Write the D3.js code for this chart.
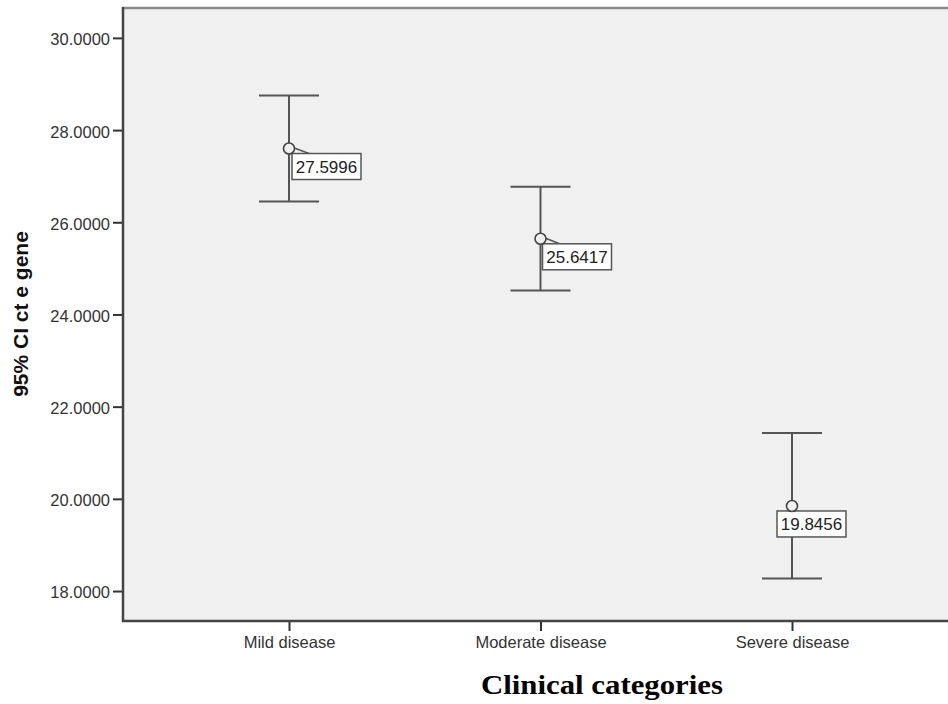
<!DOCTYPE html>
<html>
<head>
<meta charset="utf-8">
<script src="https://cdn.jsdelivr.net/npm/d3@7"></script>
<style>
  body { margin: 0; background: #fff; }
  svg { display: block; }
</style>
</head>
<body>
<div id="chart"></div>
<script>
// data
const categories = ["Mild disease", "Moderate disease", "Severe disease"];
const means = [27.5996, 25.6417, 19.8456];
const upper = [28.75, 26.77, 21.43];
const lower = [26.45, 24.52, 18.27];
const yTicks = [18, 20, 22, 24, 26, 28, 30];
const yDomain = [17.35, 30.67];

// where each value box sits relative to its mean (layout only)
const labelDx = [3, 2, -15];

const W = 948, H = 704;
const plot = {left: 122, right: 959, top: 7, bottom: 621};

const svg = d3.select("#chart").append("svg")
    .attr("width", W)
    .attr("height", H);

const x = d3.scalePoint()
    .domain(categories)
    .range([plot.left, plot.right])
    .padding(0.664);

const y = d3.scaleLinear()
    .domain(yDomain)
    .range([plot.bottom, plot.top]);

// plot background
svg.append("rect")
    .attr("x", plot.left)
    .attr("y", plot.top)
    .attr("width", plot.right - plot.left)
    .attr("height", plot.bottom - plot.top)
    .attr("fill", "#f0f0f0");

// top border
svg.append("line")
    .attr("x1", plot.left).attr("x2", plot.right)
    .attr("y1", plot.top + 1).attr("y2", plot.top + 1)
    .attr("stroke", "#8a8a8a")
    .attr("stroke-width", 2.5);

// y axis
const yAxis = svg.append("g")
    .attr("transform", `translate(${plot.left + 1},0)`)
    .call(d3.axisLeft(y).tickValues(yTicks).tickFormat(d3.format(".4f")).tickSize(10).tickSizeOuter(0).tickPadding(3));
yAxis.select(".domain").remove();
yAxis.selectAll(".tick line").attr("stroke", "#333").attr("stroke-width", 2);
yAxis.selectAll(".tick text")
    .attr("fill", "#333")
    .attr("dy", "0.42em")
    .style("font-family", "'Liberation Sans', Arial, sans-serif")
    .style("font-size", "16.5px");

svg.append("line")
    .attr("x1", plot.left + 1).attr("x2", plot.left + 1)
    .attr("y1", plot.top).attr("y2", plot.bottom + 1)
    .attr("stroke", "#444")
    .attr("stroke-width", 2.5);

// x axis
const xAxis = svg.append("g")
    .attr("transform", `translate(0,${plot.bottom})`)
    .call(d3.axisBottom(x).tickSize(10).tickSizeOuter(0).tickPadding(5));
xAxis.select(".domain").remove();
xAxis.selectAll(".tick line").attr("stroke", "#333").attr("stroke-width", 2);
xAxis.selectAll(".tick text")
    .attr("fill", "#333")
    .style("font-family", "'Liberation Sans', Arial, sans-serif")
    .style("font-size", "16.5px");

svg.append("line")
    .attr("x1", plot.left).attr("x2", plot.right)
    .attr("y1", plot.bottom).attr("y2", plot.bottom)
    .attr("stroke", "#444")
    .attr("stroke-width", 2.5);

// error bars
const rows = categories.map((c, i) => ({cat: c, mean: means[i], hi: upper[i], lo: lower[i], dx: labelDx[i]}));
const capHalf = 30;

const bars = svg.append("g")
  .selectAll("g")
  .data(rows)
  .join("g");

bars.append("line")
    .attr("x1", d => x(d.cat)).attr("x2", d => x(d.cat))
    .attr("y1", d => y(d.hi)).attr("y2", d => y(d.lo))
    .attr("stroke", "#555")
    .attr("stroke-width", 2);

bars.selectAll(".cap")
  .data(d => [d.hi, d.lo].map(v => ({cat: d.cat, v})))
  .join("line")
    .attr("class", "cap")
    .attr("x1", d => x(d.cat) - capHalf).attr("x2", d => x(d.cat) + capHalf)
    .attr("y1", d => y(d.v)).attr("y2", d => y(d.v))
    .attr("stroke", "#555")
    .attr("stroke-width", 2);

// value labels
const boxW = 69, boxH = 26;

bars.filter(d => d.dx > 0).append("line")
    .attr("x1", d => x(d.cat) + 4).attr("y1", d => y(d.mean) - 1)
    .attr("x2", d => x(d.cat) + d.dx + 17).attr("y2", d => y(d.mean) + 5)
    .attr("stroke", "#555")
    .attr("stroke-width", 1.5);

bars.append("rect")
    .attr("x", d => x(d.cat) + d.dx)
    .attr("y", d => y(d.mean) + 5)
    .attr("width", boxW)
    .attr("height", boxH)
    .attr("fill", "#fff")
    .attr("stroke", "#555")
    .attr("stroke-width", 1.5);

bars.append("text")
    .attr("x", d => x(d.cat) + d.dx + boxW / 2)
    .attr("y", d => y(d.mean) + 5 + boxH / 2)
    .attr("dy", "0.36em")
    .attr("text-anchor", "middle")
    .attr("fill", "#222")
    .style("font-family", "'Liberation Sans', Arial, sans-serif")
    .style("font-size", "17px")
    .text(d => d3.format(".4f")(d.mean));

// mean markers
bars.append("circle")
    .attr("cx", d => x(d.cat))
    .attr("cy", d => y(d.mean))
    .attr("r", 5.5)
    .attr("fill", "#f0f0f0")
    .attr("stroke", "#444")
    .attr("stroke-width", 1.6);

// axis titles
svg.append("text")
    .attr("transform", `translate(28,${(plot.top + plot.bottom) / 2}) rotate(-90)`)
    .attr("text-anchor", "middle")
    .attr("fill", "#111")
    .style("font-family", "'Liberation Sans', Arial, sans-serif")
    .style("font-weight", "bold")
    .style("font-size", "21px")
    .text("95% CI ct e gene");

svg.append("text")
    .attr("x", 602)
    .attr("y", 694)
    .attr("text-anchor", "middle")
    .attr("fill", "#000")
    .attr("textLength", 242)
    .attr("lengthAdjust", "spacingAndGlyphs")
    .style("font-family", "'Liberation Serif', 'Times New Roman', serif")
    .style("font-weight", "bold")
    .style("font-size", "27px")
    .text("Clinical categories");
</script>
</body>
</html>
